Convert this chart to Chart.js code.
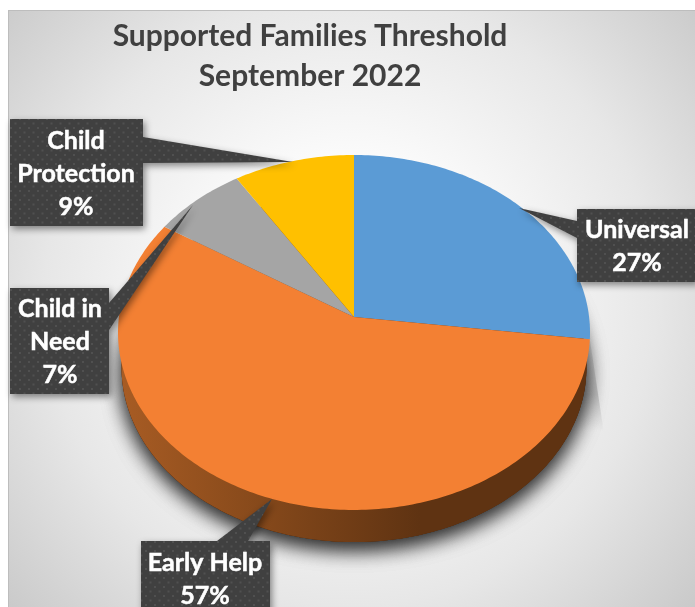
<!DOCTYPE html>
<html>
<head>
<meta charset="utf-8">
<title>Supported Families Threshold</title>
<script src="https://cdn.jsdelivr.net/npm/chart.js@4"></script>
<style>
  html, body { margin: 0; padding: 0; background: #fff; overflow: hidden; }
  canvas { display: block; }
</style>
</head>
<body>
<canvas id="thresholdChart" width="695" height="607"></canvas>
<script>
// Chart data
const categories = ['Universal', 'Early Help', 'Child in Need', 'Child Protection'];
const shares = [27, 57, 7, 9];
const sliceColours = ['#5b9bd5', '#f38033', '#a5a5a5', '#ffc000'];
const titleLines = ['Supported Families Threshold', 'September 2022'];

// Label wrapping for the callouts, same order as categories
const labelLines = [['Universal'], ['Early Help'], ['Child in', 'Need'], ['Child', 'Protection']];

// Callout boxes: x, y, w, h plus the tail base points and tip
const callouts = [
    { x: 577, y: 209, w: 120, h: 73, tail: [[577, 221], [519, 208], [577, 238]], textX: 637, textY: 230 },
    { x: 141, y: 541, w: 129, h: 80, tail: [[217, 541], [272, 499], [248, 541]], textX: 205, textY: 563 },
    { x: 10, y: 288, w: 99, h: 106, tail: [[109, 303], [193, 205], [109, 330]], textX: 60, textY: 309 },
    { x: 10, y: 119, w: 133, h: 107, tail: [[143, 137], [293, 162], [143, 163]], textX: 76, textY: 141 }
];

// Tilted disc: the unit circle is put through a perspective so the front looks bigger
const disc = { cx: 354, cy: 317, a: 235.1, b: 176.1, k: -0.0873, depth: 35 };

function project(angle, scale = 1, shiftY = 0) {
    let u = Math.cos(angle);
    let v = Math.sin(angle);
    let w = 1 + disc.k * v;
    return [disc.cx + scale * disc.a * u / w, disc.cy + shiftY + scale * disc.b * v / w];
}

function traceRim(ctx, from, to, scale, shiftY) {
    let steps = Math.max(8, Math.ceil((to - from) * 60));
    for (let i = 0; i <= steps; i++) {
        let p = project(from + (to - from) * i / steps, scale, shiftY);
        ctx.lineTo(p[0], p[1]);
    }
}

// Background panel with the thin grey edge
const panelPlugin = {
    id: 'panel',
    beforeDraw(chart) {
        let ctx = chart.ctx;
        let gradient = ctx.createRadialGradient(350, 300, 0, 350, 300, 470);
        gradient.addColorStop(0, '#ffffff');
        gradient.addColorStop(0.3, '#fbfbfb');
        gradient.addColorStop(0.65, '#e7e7e7');
        gradient.addColorStop(1, '#c8c8c8');
        ctx.save();
        ctx.fillStyle = '#fff';
        ctx.fillRect(0, 0, 695, 607);
        ctx.fillStyle = gradient;
        ctx.fillRect(8, 10, 687, 597);
        ctx.fillStyle = '#bdbdbd';
        ctx.fillRect(8, 10, 687, 1);
        ctx.fillRect(8, 10, 1, 597);
        ctx.restore();
    }
};

// Draws the pie slices from the arc elements through the perspective, with side wall and shadow
const tiltedPiePlugin = {
    id: 'tiltedPie',
    beforeDatasetDraw(chart) {
        let ctx = chart.ctx;
        let arcs = chart.getDatasetMeta(0).data;

        ctx.save();
        // soft shadow round the wall, laid down twice to get it dark enough
        ctx.save();
        ctx.shadowColor = 'rgba(0,0,0,0.6)';
        ctx.shadowBlur = 20;
        ctx.shadowOffsetY = 7;
        ctx.fillStyle = '#5f3312';
        for (let pass = 0; pass < 2; pass++) {
            ctx.beginPath();
            traceRim(ctx, 0, Math.PI * 2, 0.985, disc.depth);
            ctx.closePath();
            ctx.fill();
        }
        ctx.restore();

        // hard edged wedge of shadow on the right, fading out downwards
        let rim = project(arcs[0].endAngle);
        let wedge = ctx.createLinearGradient(0, rim[1], 0, rim[1] + 92);
        wedge.addColorStop(0, 'rgba(0,0,0,0.06)');
        wedge.addColorStop(0.6, 'rgba(0,0,0,0.16)');
        wedge.addColorStop(1, 'rgba(0,0,0,0)');
        ctx.fillStyle = wedge;
        ctx.beginPath();
        ctx.moveTo(rim[0], rim[1]);
        ctx.lineTo(rim[0] + 15, rim[1] + 100);
        ctx.lineTo(rim[0] - 20, rim[1] + 110);
        ctx.closePath();
        ctx.fill();

        // side wall
        let wall = ctx.createLinearGradient(118, 0, 420, 0);
        wall.addColorStop(0, '#a85c24');
        wall.addColorStop(0.35, '#8f4e1d');
        wall.addColorStop(1, '#5f3312');
        ctx.fillStyle = wall;
        ctx.beginPath();
        traceRim(ctx, 0, Math.PI * 2, 0.985, disc.depth);
        ctx.closePath();
        ctx.fill();

        // top face, one slice per arc element
        arcs.forEach((arc, i) => {
            ctx.fillStyle = sliceColours[i];
            ctx.beginPath();
            ctx.moveTo(disc.cx, disc.cy);
            traceRim(ctx, arc.startAngle, arc.endAngle, 1, 0);
            ctx.closePath();
            ctx.fill();
        });
        ctx.restore();
        return false;
    }
};

function dottedPattern(ctx) {
    let tile = document.createElement('canvas');
    tile.width = 9;
    tile.height = 9;
    let t = tile.getContext('2d');
    t.fillStyle = '#404040';
    t.fillRect(0, 0, 9, 9);
    t.fillStyle = '#505050';
    t.fillRect(1, 1, 2, 2);
    t.fillRect(5.5, 5.5, 2, 2);
    return ctx.createPattern(tile, 'repeat');
}

// Dark labels with a pointer running to their slice
const calloutPlugin = {
    id: 'callouts',
    afterDraw(chart) {
        let ctx = chart.ctx;
        let pattern = dottedPattern(ctx);

        callouts.forEach((c, i) => {
            ctx.save();
            ctx.shadowColor = 'rgba(0,0,0,0.45)';
            ctx.shadowBlur = 7;
            ctx.shadowOffsetX = 2;
            ctx.shadowOffsetY = 3;
            ctx.fillStyle = pattern;
            ctx.beginPath();
            ctx.rect(c.x, c.y, c.w, c.h);
            ctx.moveTo(c.tail[0][0], c.tail[0][1]);
            ctx.lineTo(c.tail[1][0], c.tail[1][1]);
            ctx.lineTo(c.tail[2][0], c.tail[2][1]);
            ctx.closePath();
            ctx.fill('nonzero');
            ctx.restore();

            ctx.save();
            ctx.fillStyle = '#ffffff';
            ctx.strokeStyle = '#ffffff';
            ctx.lineWidth = 0.5;
            ctx.font = 'bold 25px Lato';
            ctx.textAlign = 'center';
            ctx.textBaseline = 'middle';
            let lines = labelLines[i].concat(shares[i] + '%');
            lines.forEach((line, n) => {
                ctx.fillText(line, c.textX, c.textY + n * 33);
                ctx.strokeText(line, c.textX, c.textY + n * 33);
            });
            ctx.restore();
        });
    }
};

new Chart(document.getElementById('thresholdChart'), {
    type: 'pie',
    data: {
        labels: categories,
        datasets: [{
            data: shares,
            backgroundColor: sliceColours,
            borderWidth: 0
        }]
    },
    options: {
        responsive: false,
        animation: false,
        layout: { padding: { top: 16, right: 75 } },
        plugins: {
            legend: { display: false },
            tooltip: { enabled: false },
            title: {
                display: true,
                text: titleLines,
                color: '#404040',
                font: { family: 'Lato', size: 30, weight: 'bold', lineHeight: 1.33 },
                padding: 0
            }
        }
    },
    plugins: [panelPlugin, tiltedPiePlugin, calloutPlugin]
});
</script>
</body>
</html>
